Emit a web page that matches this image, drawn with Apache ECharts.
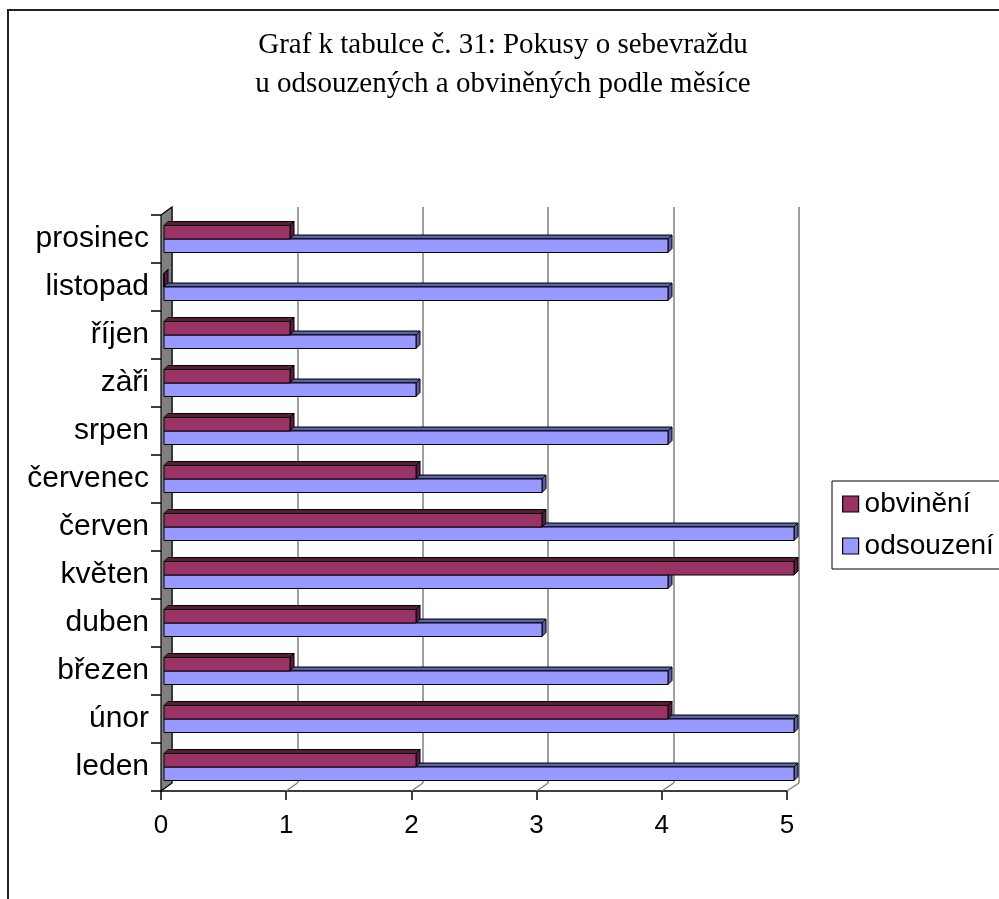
<!DOCTYPE html>
<html>
<head>
<meta charset="utf-8">
<script src="https://cdn.jsdelivr.net/npm/echarts@6/dist/echarts.min.js"></script>
<style>html,body{margin:0;padding:0;background:#fff;}#c{width:999px;height:899px;}</style>
</head>
<body>
<div id="c"></div>
<script>
const categories = ['leden','únor','březen','duben','květen','červen','červenec','srpen','zàři','říjen','listopad','prosinec'];
const obvineni   = [2, 4, 1, 2, 5, 3, 2, 1, 1, 1, 0, 1];
const odsouzeni  = [5, 5, 4, 3, 4, 5, 3, 4, 2, 2, 4, 4];
const xTicks = [0, 1, 2, 3, 4, 5];
const seriesNames = ['obvinění', 'odsouzení'];
const titleLines = ['Graf k tabulce č. 31: Pokusy o sebevraždu', 'u odsouzených a obviněných podle měsíce'];

const chart = echarts.init(document.getElementById('c'), null, {renderer: 'canvas'});

function bar3D(upper, front, side) {
  return function (params, api) {
    const v = api.value(0), c = api.value(1);
    const p0 = api.coord([0, c]);
    const p1 = api.coord([v, c]);
    const h = 13.5, d = 4;
    const x0 = p0[0], x1 = p1[0];
    const yT = upper ? p0[1] - h : p0[1];
    const st = {stroke: '#000', lineWidth: 1};
    return {
      type: 'group',
      children: [
        {type: 'polygon', shape: {points: [[x0, yT], [x0 + d, yT - d], [x1 + d, yT - d], [x1, yT]]}, style: Object.assign({fill: side}, st)},
        {type: 'polygon', shape: {points: [[x1, yT], [x1 + d, yT - d], [x1 + d, yT + h - d], [x1, yT + h]]}, style: Object.assign({fill: side}, st)},
        {type: 'rect', shape: {x: x0, y: yT, width: x1 - x0, height: h}, style: Object.assign({fill: front}, st)}
      ]
    };
  };
}

const FONT = '"Liberation Sans", Arial, sans-serif';
const grids = [
  {left: 164, top: 215, width: 630, height: 576},   // bars
  {left: 161, top: 215, width: 626, height: 576},   // front axes
  {left: 172, top: 207, width: 627, height: 576}    // back wall / gridlines
];

const option = {
  animation: false,
  backgroundColor: '#fff',
  title: {
    text: titleLines.join('\n'),
    left: 498, top: 21, textAlign: 'center',
    textStyle: {fontFamily: '"Liberation Serif", "Times New Roman", serif', fontWeight: 'normal', fontSize: 29, lineHeight: 39, color: '#000'}
  },
  legend: {
    orient: 'vertical', left: 832, top: 481,
    data: seriesNames, icon: 'rect', itemWidth: 16, itemHeight: 16, itemGap: 14,
    padding: [9, 20, 9, 10],
    borderColor: '#000', borderWidth: 1,
    itemStyle: {borderColor: '#000', borderWidth: 1.2},
    textStyle: {fontFamily: FONT, fontSize: 28, color: '#000', padding: [0, 0, 0, 1]}
  },
  grid: grids,
  xAxis: [
    {gridIndex: 0, type: 'value', min: 0, max: 5, interval: 1, show: false},
    {gridIndex: 1, type: 'value', min: xTicks[0], max: xTicks[xTicks.length - 1], interval: 1,
      axisLine: {show: true, lineStyle: {color: '#000', width: 1.5}},
      axisTick: {show: true, length: 9, lineStyle: {color: '#000', width: 1.5}},
      axisLabel: {fontFamily: FONT, fontSize: 26, color: '#000', margin: 22},
      splitLine: {show: false}},
    {gridIndex: 2, type: 'value', min: 0, max: 5, interval: 1,
      axisLine: {show: false}, axisTick: {show: false}, axisLabel: {show: false},
      splitLine: {show: true, lineStyle: {color: '#808080', width: 1.5}}}
  ],
  yAxis: [
    {gridIndex: 0, type: 'category', data: categories, show: false},
    {gridIndex: 1, type: 'category', data: categories,
      axisLine: {show: false},
      axisTick: {show: true, length: 10, lineStyle: {color: '#000', width: 1.5}},
      axisLabel: {fontFamily: FONT, fontSize: 30, color: '#000', margin: 12}},
    {gridIndex: 2, type: 'category', data: categories, show: false}
  ],
  series: [
    {name: seriesNames[0], type: 'custom', xAxisIndex: 0, yAxisIndex: 0, z: 4,
      itemStyle: {color: '#993366'},
      renderItem: bar3D(true, '#993366', '#5a1c3c'),
      encode: {x: 0, y: 1},
      data: obvineni.map((v, i) => [v, i])},
    {name: seriesNames[1], type: 'custom', xAxisIndex: 0, yAxisIndex: 0, z: 3,
      itemStyle: {color: '#9999ff'},
      renderItem: bar3D(false, '#9999ff', '#5f5fa6'),
      encode: {x: 0, y: 1},
      data: odsouzeni.map((v, i) => [v, i])}
  ]
};
chart.setOption(option);

// decorations: chart border, side wall, floor slants (from axis pixel positions)
const fx = k => chart.convertToPixel({xAxisIndex: 1}, k);
const bx = k => chart.convertToPixel({xAxisIndex: 2}, k);
const fy0 = grids[1].top + grids[1].height, by0 = grids[2].top + grids[2].height;
const fyT = grids[1].top, byT = grids[2].top;
const graphics = [
  {type: 'rect', z: -1, shape: {x: 8, y: 10, width: 1200, height: 1200}, style: {fill: 'none', stroke: '#222', lineWidth: 2}},
  {type: 'polygon', z: 1, shape: {points: [[fx(0), fyT], [bx(0), byT], [bx(0), by0], [fx(0), fy0]]}, style: {fill: '#808080', stroke: '#000', lineWidth: 1.2}}
];
xTicks.slice(1).forEach(k => {
  graphics.push({type: 'line', z: 1, shape: {x1: bx(k), y1: by0, x2: fx(k), y2: fy0}, style: {stroke: '#808080', lineWidth: 1.5}});
});
chart.setOption({graphic: graphics});
</script>
</body>
</html>
